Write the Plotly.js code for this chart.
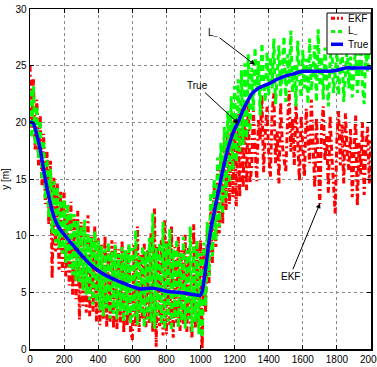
<!DOCTYPE html>
<html>
<head>
<meta charset="utf-8">
<script src="https://cdn.plot.ly/plotly-3.0.1.min.js"></script>
<style>
  html, body { margin: 0; padding: 0; background: #fff; }
  #chart { width: 377px; height: 367px; }
</style>
</head>
<body>
<div id="chart"></div>
<script>
// Sample positions of the noisy estimates (every 10 m along x)
var sampleStart = 0, sampleStep = 10, sampleCount = 201;

// L_ estimate (green, dashed)
var lMinusY = [
  22.8, 18.6, 23.2, 18.0, 21.4, 16.8, 20.2, 14.9, 18.4, 13.2,
  16.8, 11.6, 15.9, 10.2, 14.8, 9.4, 14.3, 8.9, 13.6, 8.4,
  13.2, 7.6, 12.8, 7.2, 12.1, 6.5, 11.9, 6.0, 11.3, 5.9,
  10.8, 5.2, 11.4, 4.8, 10.2, 4.3, 9.8, 3.9, 10.4, 4.1,
  9.6, 3.4, 9.1, 2.9, 8.8, 3.6, 9.4, 2.7, 8.6, 3.1,
  9.2, 2.6, 8.4, 3.3, 9.0, 2.4, 8.7, 3.0, 9.3, 2.2,
  8.9, 2.8, 10.5, 2.1, 8.2, 3.2, 9.1, 1.9, 8.6, 2.6,
  9.8, 2.3, 12.0, 1.8, 8.9, 2.9, 9.4, 2.2, 11.2, 1.7,
  9.3, 2.4, 10.6, 1.6, 8.8, 2.7, 9.7, 1.9, 8.5, 2.5,
  9.9, 1.8, 8.7, 2.6, 10.8, 1.5, 9.2, 2.4, 9.6, 1.3,
  8.5, 1.0, 9.4, 3.8, 11.2, 6.4, 13.8, 8.2, 15.0, 9.6,
  16.9, 10.8, 18.2, 11.9, 19.6, 13.2, 21.0, 14.6, 22.3, 15.8,
  23.2, 16.5, 23.8, 17.4, 24.6, 18.0, 25.2, 18.6, 26.0, 19.2,
  24.8, 21.0, 26.6, 22.8, 25.4, 20.6, 27.0, 23.6, 21.8, 26.2,
  22.4, 25.8, 23.0, 27.4, 21.6, 24.6, 26.8, 22.2, 25.2, 27.6,
  21.8, 26.0, 23.4, 28.1, 22.6, 25.0, 21.4, 27.2, 24.0, 22.2,
  26.4, 23.0, 25.6, 21.6, 27.4, 22.8, 24.6, 26.8, 21.8, 28.2,
  23.2, 25.8, 22.0, 26.6, 24.2, 21.4, 25.4, 27.0, 22.6, 24.8,
  26.2, 22.4, 25.0, 27.2, 21.8, 24.4, 26.6, 23.0, 25.8, 22.2,
  24.6, 26.8, 22.6, 25.4, 27.0, 23.2, 21.6, 26.2, 24.4, 27.6, 26.4
];

// EKF estimate (red, dash-dot)
var ekfY = [
  25.0, 19.4, 23.8, 17.6, 22.0, 16.2, 20.6, 14.4, 19.0, 12.8,
  17.4, 11.0, 16.6, 6.2, 15.2, 8.6, 14.6, 7.0, 14.0, 6.8,
  13.8, 6.4, 12.4, 5.6, 13.0, 4.8, 11.6, 4.4, 12.2, 2.6,
  11.2, 3.8, 10.6, 3.2, 11.8, 2.9, 9.9, 3.3, 10.9, 2.4,
  9.8, 2.1, 9.3, 2.6, 10.0, 1.9, 8.9, 2.4, 9.6, 1.8,
  9.4, 1.7, 8.8, 2.3, 9.6, 1.4, 8.5, 2.0, 9.1, 1.6,
  0.8, 9.2, 2.0, 10.8, 1.5, 8.4, 2.6, 9.3, 1.9, 8.8,
  2.2, 10.2, 1.4, 12.4, 0.2, 9.1, 2.0, 9.6, 1.2, 11.4,
  1.3, 9.5, 2.1, 10.8, 1.0, 9.0, 2.3, 9.9, 1.6, 8.7,
  2.2, 10.1, 1.5, 8.9, 2.4, 0.9, 11.0, 1.8, 9.4, 2.0,
  9.6, 0.0, 9.0, 3.2, 10.6, 5.8, 12.8, 7.6, 14.4, 9.0,
  15.8, 10.2, 17.2, 11.0, 18.4, 12.2, 19.2, 12.8, 19.8, 13.4,
  20.2, 12.6, 20.8, 13.4, 21.2, 14.2, 21.6, 14.0, 22.0, 14.6,
  16.0, 21.0, 17.8, 14.8, 20.2, 18.4, 22.4, 15.6, 19.0, 21.4,
  17.2, 15.2, 20.8, 22.6, 16.4, 19.2, 14.6, 21.8, 18.0, 16.6,
  15.6, 19.8, 22.8, 17.4, 20.4, 16.2, 21.6, 18.6, 14.8, 20.6,
  17.8, 15.2, 21.2, 19.0, 16.4, 22.0, 18.2, 14.2, 20.4, 16.8,
  12.8, 19.6, 21.4, 16.6, 18.8, 13.8, 20.6, 17.2, 15.0, 11.9,
  18.6, 21.0, 16.2, 19.8, 14.6, 20.8, 17.4, 15.8, 19.4, 13.4,
  17.0, 20.6, 12.6, 18.2, 15.4, 20.0, 13.6, 17.8, 19.6, 14.6, 18.4
];

// True trajectory (blue, solid)
var trueX = [0, 10, 20, 30, 40, 50, 60, 70, 80, 90, 100, 110, 120, 130, 140, 150, 170, 200, 250, 300, 350, 400, 450, 500, 550, 600, 650, 700, 730, 800, 900, 1000,
  1010, 1020, 1030, 1040, 1050, 1060, 1070, 1080, 1090, 1100, 1120, 1140, 1160, 1180, 1200, 1220, 1250, 1270, 1300, 1330, 1350, 1400, 1450, 1500, 1550, 1600, 1700, 1750, 1800, 1850, 1900, 2000];
var trueY = [20.0, 20.0, 19.9, 19.5, 18.9, 18.3, 17.6, 16.7, 15.8, 15.0, 14.2, 13.5, 12.8, 12.2, 11.7, 11.3, 10.7, 10.1, 9.2, 8.3, 7.5, 6.9, 6.45, 6.1, 5.8, 5.5, 5.3, 5.35, 5.35, 5.1, 4.95, 4.75,
  5.1, 6.0, 7.1, 8.3, 9.5, 10.5, 11.3, 12.0, 12.8, 13.5, 15.0, 16.4, 17.6, 18.6, 19.4, 20.0, 21.1, 21.7, 22.5, 22.9, 23.1, 23.4, 23.8, 24.1, 24.3, 24.5, 24.5, 24.5, 24.6, 24.8, 24.8, 24.8];

var xTickVals = [0, 200, 400, 600, 800, 1000, 1200, 1400, 1600, 1800, 2000];
var yTickVals = [0, 5, 10, 15, 20, 25, 30];
var seriesNames = ['EKF', 'L<sub>–</sub>', 'True'];
var seriesColors = ['#ff0000', '#00ff00', '#0000ff'];
var seriesDashes = ['6px,3px,2px,3px', '6px,4px', 'solid'];
var seriesWidths = [3, 3, 3.5];

var sampleX = [];
for (var i = 0; i < sampleCount; i++) sampleX.push(sampleStart + i * sampleStep);

var traces = [
  { x: sampleX, y: ekfY, name: seriesNames[0], type: 'scatter', mode: 'lines',
    line: { color: seriesColors[0], width: seriesWidths[0], dash: seriesDashes[0] } },
  { x: sampleX, y: lMinusY, name: seriesNames[1], type: 'scatter', mode: 'lines',
    line: { color: seriesColors[1], width: seriesWidths[1], dash: seriesDashes[1] } },
  { x: trueX, y: trueY, name: seriesNames[2], type: 'scatter', mode: 'lines',
    line: { color: seriesColors[2], width: seriesWidths[2], shape: 'spline', smoothing: 0.6 } }
];

// plot-area geometry (px) for legend placement in paper coordinates
var M = { l: 30, r: 6, t: 9, b: 18 }, W = 377, H = 367;
var pw = W - M.l - M.r, ph = H - M.t - M.b;
function px(xp) { return (xp - M.l) / pw; }
function py(yp) { return (H - M.b - yp) / ph; }

var shapes = [
  { type: 'rect', xref: 'paper', yref: 'paper', x0: px(327), x1: px(371), y0: py(54), y1: py(13),
    line: { color: '#000', width: 1 }, fillcolor: '#fff', layer: 'above' }
];
var legendRows = [18.3, 31.5, 44.3];
var annotations = [];
for (var k = 0; k < 3; k++) {
  shapes.push({ type: 'line', xref: 'paper', yref: 'paper', x0: px(331), x1: px(343),
    y0: py(legendRows[k]), y1: py(legendRows[k]),
    line: { color: seriesColors[k], width: seriesWidths[k], dash: k === 2 ? 'solid' : (k === 0 ? '4px,2px,2px,2px' : '4px,3px') },
    layer: 'above' });
  annotations.push({ xref: 'paper', yref: 'paper', x: px(346), y: py(legendRows[k]),
    xanchor: 'left', yanchor: 'middle', text: seriesNames[k], showarrow: false,
    font: { size: 10, color: '#000' } });
}

annotations.push(
  { x: 1320, y: 25.07, xref: 'x', yref: 'y', text: 'L<sub>–</sub>', showarrow: true,
    ax: -42, ay: -32, arrowhead: 2, arrowsize: 1, arrowwidth: 1, arrowcolor: '#000',
    font: { size: 10, color: '#000' } },
  { x: 1222, y: 19.9, xref: 'x', yref: 'y', text: 'True', showarrow: true,
    ax: -41, ay: -38, arrowhead: 2, arrowsize: 1, arrowwidth: 1, arrowcolor: '#000',
    font: { size: 10, color: '#000' } },
  { x: 1701, y: 12.86, xref: 'x', yref: 'y', text: 'EKF', showarrow: true,
    ax: -30, ay: 73, arrowhead: 2, arrowsize: 1, arrowwidth: 1, arrowcolor: '#000',
    font: { size: 10, color: '#000' } },
  // x-axis title, below the tick labels (cut by the window edge as in the reference)
  { xref: 'paper', yref: 'paper', x: 0.5, y: 0, yanchor: 'top', yshift: -15,
    text: 'x [m]', showarrow: false, font: { size: 10, color: '#000' } }
);

var axisCommon = {
  showline: true, linecolor: '#000', linewidth: 1.5, mirror: 'ticks',
  ticks: 'inside', ticklen: 4, tickcolor: '#000', tickwidth: 1,
  showgrid: true, gridcolor: '#8a8a8a', griddash: 'dot', gridwidth: 1,
  zeroline: false, tickfont: { size: 10, color: '#000' }, ticklabeloverflow: 'allow'
};

var layout = {
  width: W, height: H,
  margin: M,
  paper_bgcolor: '#fff', plot_bgcolor: '#fff',
  font: { family: 'Liberation Sans, Arial, sans-serif', size: 10, color: '#000' },
  showlegend: false,
  xaxis: Object.assign({}, axisCommon, {
    range: [0, 2000], tickvals: xTickVals, ticktext: xTickVals.map(String), automargin: false
  }),
  yaxis: Object.assign({}, axisCommon, {
    range: [0, 30], tickvals: yTickVals, ticktext: yTickVals.map(String),
    title: { text: 'y [m]', font: { size: 10 }, standoff: 4 }, automargin: false
  }),
  shapes: shapes,
  annotations: annotations
};

Plotly.newPlot('chart', traces, layout, { displayModeBar: false, staticPlot: true });
</script>
</body>
</html>
